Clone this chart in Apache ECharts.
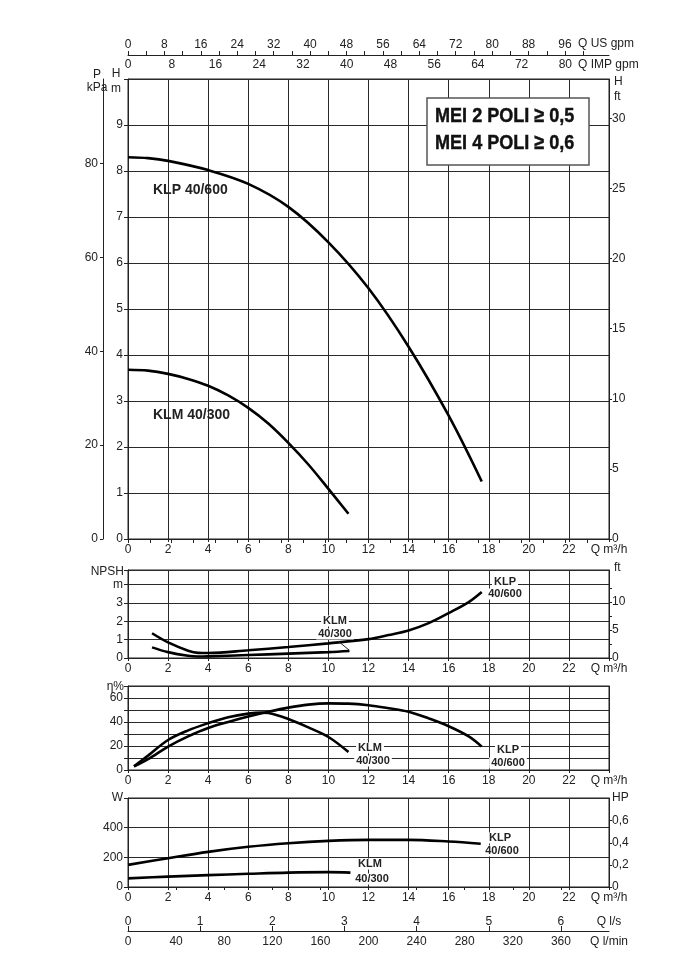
<!DOCTYPE html>
<html><head><meta charset="utf-8">
<script src="https://cdn.jsdelivr.net/npm/echarts@6/dist/echarts.min.js"></script>
<style>html,body{margin:0;padding:0;background:#fff}#c{width:694px;height:963px}</style>
</head><body><div id="c"></div>
<script>
// ---------- data ----------
// Head H (m) vs Q (m3/h)
const klpHQ = [0, 1, 2, 4, 6, 8, 10, 12, 14, 16, 17.65];
const klpH  = [8.30, 8.28, 8.22, 8.02, 7.72, 7.22, 6.45, 5.45, 4.18, 2.68, 1.25];
const klmHQ = [0, 1, 2, 3, 4, 5, 6, 7, 8, 9, 10, 11];
const klmH  = [3.68, 3.66, 3.59, 3.48, 3.33, 3.12, 2.85, 2.51, 2.09, 1.62, 1.09, 0.55];
// NPSH (m)
const klpNpshQ = [1.2, 2, 3, 3.5, 4, 6, 8, 10, 12, 13, 14, 15, 16, 17, 17.65];
const klpNpsh  = [1.35, 0.85, 0.40, 0.28, 0.27, 0.42, 0.60, 0.80, 1.03, 1.25, 1.50, 1.90, 2.45, 3.05, 3.60];
const klmNpshQ = [1.2, 2, 3, 3.5, 4, 6, 8, 10, 11.05];
const klmNpsh  = [0.58, 0.32, 0.12, 0.08, 0.09, 0.16, 0.24, 0.32, 0.38];
// Efficiency (%)
const klpEffQ = [0.3, 1, 2, 3, 4, 5, 6, 7, 8, 9, 10, 11, 12, 13, 14, 15, 16, 17, 17.65];
const klpEff  = [3, 9, 19.5, 28, 35, 40, 44.5, 48.5, 52, 54.5, 55.5, 55.3, 54, 51.5, 48.5, 43, 36.5, 28, 19.5];
const klmEffQ = [0.3, 1, 2, 3, 4, 5, 6, 6.7, 7, 8, 9, 10, 11];
const klmEff  = [3, 12, 25, 33, 39, 44, 47, 47.8, 47.5, 42.5, 35.5, 27.5, 15];
// Power (W)
const klpPQ = [0, 2, 4, 6, 8, 10, 12, 14, 16, 17.6];
const klpP  = [149, 194, 237, 271, 295, 311, 318, 318, 307, 292];
const klmPQ = [0, 2, 4, 6, 8, 10, 11.1];
const klmP  = [58, 70, 80, 89, 97, 100, 97];

// tick labels
const usGpmLabels  = [0, 8, 16, 24, 32, 40, 48, 56, 64, 72, 80, 88, 96];
const usGpmMinor   = [4, 12, 20, 28, 36, 44, 52, 60, 68, 76, 84, 92, 100];
const impGpmLabels = [0, 8, 16, 24, 32, 40, 48, 56, 64, 72, 80];
const impGpmMinor  = [4, 12, 20, 28, 36, 44, 52, 60, 68, 76, 84];
const lsLabels     = [0, 1, 2, 3, 4, 5, 6];
const lminLabels   = [0, 40, 80, 120, 160, 200, 240, 280, 320, 360];
const kpaLabels    = [0, 20, 40, 60, 80];
const ftLabels     = [0, 5, 10, 15, 20, 25, 30];
const npshFtTicks  = [0, 2.5, 5, 7.5, 10, 12.5];
const npshFtLabels = [0, 5, 10];
const hpLabels     = [0, 0.2, 0.4, 0.6];

// units / ranges
const Q_MAX = 24, H_MAX = 10, NPSH_MAX = 4.8, EFF_MAX = 70, P_MAX = 600;
const M_TO_FT = 3.28084, M_TO_KPA = 9.80665;
const US = 4.40287, IMP = 3.66615;
const US_MAX = Q_MAX * US, IMP_MAX = Q_MAX * IMP, LS_MAX = Q_MAX / 3.6, LMIN_MAX = Q_MAX * 1000 / 60;
const HP_MAX = P_MAX / 745.7;

const FONT = '"Liberation Sans", Arial, sans-serif';
const INK = '#222';
const GRIDC = '#2a2a2a';
const zip = (a, b) => a.map((v, i) => [v, b[i]]);
const near = (a, b) => Math.abs(a - b) < 1e-6;
const comma = v => String(Math.round(v * 10) / 10).replace('.', ',');

const lbl = (extra) => Object.assign({color: INK, fontSize: 12, fontFamily: FONT}, extra);

function qAxis(gridIndex) {
  return {
    type: 'value', gridIndex, min: 0, max: Q_MAX, interval: 2, position: 'bottom',
    axisLine: {show: true, onZero: false, lineStyle: {color: INK}},
    axisTick: {show: true, length: 3, lineStyle: {color: INK}},
    axisLabel: lbl({margin: 5, showMaxLabel: true, showMinLabel: true,
      formatter: v => v >= Q_MAX ? 'Q m³/h' : String(v)}),
    splitLine: {show: true, lineStyle: {color: GRIDC, width: 1}}
  };
}

const xAxis = [
  qAxis(0),
  { type: 'value', gridIndex: 0, min: 0, max: US_MAX, position: 'top', offset: 24,
    axisLine: {show: true, onZero: false, lineStyle: {color: INK}},
    axisTick: {show: true, length: 4, customValues: usGpmLabels.concat(usGpmMinor), lineStyle: {color: INK}},
    axisLabel: lbl({margin: 4, customValues: usGpmLabels}),
    splitLine: {show: false} },
  { type: 'value', gridIndex: 0, min: 0, max: IMP_MAX, position: 'top', offset: 24,
    axisLine: {show: false},
    axisTick: {show: true, inside: true, length: 4, customValues: impGpmLabels.concat(impGpmMinor), lineStyle: {color: INK}},
    axisLabel: lbl({inside: true, margin: 4, customValues: impGpmLabels}),
    splitLine: {show: false} },
  qAxis(1),
  qAxis(2),
  qAxis(3),
  { type: 'value', gridIndex: 3, min: 0, max: LS_MAX, position: 'bottom', offset: 44,
    axisLine: {show: true, onZero: false, lineStyle: {color: INK}},
    axisTick: {show: true, inside: true, length: 5, customValues: lsLabels, lineStyle: {color: INK}},
    axisLabel: lbl({inside: true, margin: 3, customValues: lsLabels.concat([LS_MAX]),
      formatter: v => near(v, LS_MAX) ? 'Q l/s' : String(v)}),
    splitLine: {show: false} },
  { type: 'value', gridIndex: 3, min: 0, max: LMIN_MAX, position: 'bottom', offset: 44,
    axisLine: {show: false},
    axisTick: {show: true, length: 3, customValues: lminLabels, lineStyle: {color: INK}},
    axisLabel: lbl({margin: 5, customValues: lminLabels.concat([LMIN_MAX]),
      formatter: v => near(v, LMIN_MAX) ? 'Q l/min' : String(v)}),
    splitLine: {show: false} }
];

const yAxis = [
  // 0 main H (m)
  { type: 'value', gridIndex: 0, min: 0, max: H_MAX, interval: 1, position: 'left',
    axisLine: {show: true, onZero: false, lineStyle: {color: INK}},
    axisTick: {show: true, length: 4, lineStyle: {color: INK}},
    axisLabel: lbl({margin: 5, formatter: v => v >= H_MAX ? '' : String(v)}),
    splitLine: {show: true, lineStyle: {color: GRIDC}} },
  // 1 main P (kPa)
  { type: 'value', gridIndex: 0, min: 0, max: H_MAX * M_TO_KPA, position: 'left', offset: 25,
    axisLine: {show: true, onZero: false, lineStyle: {color: INK}},
    axisTick: {show: true, length: 3, customValues: kpaLabels, lineStyle: {color: INK}},
    axisLabel: lbl({margin: 5, customValues: kpaLabels}),
    splitLine: {show: false} },
  // 2 main H (ft)
  { type: 'value', gridIndex: 0, min: 0, max: H_MAX * M_TO_FT, position: 'right',
    axisLine: {show: true, onZero: false, lineStyle: {color: INK}},
    axisTick: {show: true, length: 3, customValues: ftLabels, lineStyle: {color: INK}},
    axisLabel: lbl({margin: 3, customValues: ftLabels}),
    splitLine: {show: false} },
  // 3 NPSH (m)
  { type: 'value', gridIndex: 1, min: 0, max: NPSH_MAX, interval: 1, position: 'left',
    axisLine: {show: true, onZero: false, lineStyle: {color: INK}},
    axisTick: {show: true, length: 4, lineStyle: {color: INK}},
    axisLabel: lbl({margin: 5, showMaxLabel: true, formatter: v => near(v, 4) ? 'm' : (v > 3 ? '' : String(v))}),
    splitLine: {show: true, lineStyle: {color: GRIDC}} },
  // 4 NPSH (ft)
  { type: 'value', gridIndex: 1, min: 0, max: NPSH_MAX * M_TO_FT, position: 'right',
    axisLine: {show: true, onZero: false, lineStyle: {color: INK}},
    axisTick: {show: true, length: 3, customValues: npshFtTicks, lineStyle: {color: INK}},
    axisLabel: lbl({margin: 3, customValues: npshFtLabels}),
    splitLine: {show: false} },
  // 5 efficiency
  { type: 'value', gridIndex: 2, min: 0, max: EFF_MAX, interval: 10, position: 'left',
    axisLine: {show: true, onZero: false, lineStyle: {color: INK}},
    axisTick: {show: true, length: 4, lineStyle: {color: INK}},
    axisLabel: lbl({margin: 5, formatter: v => (v % 20 === 0 && v < EFF_MAX) ? String(v) : ''}),
    splitLine: {show: true, lineStyle: {color: GRIDC}} },
  // 6 efficiency right frame
  { type: 'value', gridIndex: 2, min: 0, max: EFF_MAX, interval: 10, position: 'right',
    axisLine: {show: true, onZero: false, lineStyle: {color: INK}},
    axisTick: {show: false}, axisLabel: {show: false}, splitLine: {show: false} },
  // 7 power W
  { type: 'value', gridIndex: 3, min: 0, max: P_MAX, interval: 200, position: 'left',
    axisLine: {show: true, onZero: false, lineStyle: {color: INK}},
    axisTick: {show: true, length: 4, lineStyle: {color: INK}},
    axisLabel: lbl({margin: 5, showMaxLabel: true, formatter: v => v >= P_MAX ? 'W' : String(v)}),
    splitLine: {show: true, lineStyle: {color: GRIDC}} },
  // 8 power HP
  { type: 'value', gridIndex: 3, min: 0, max: HP_MAX, position: 'right',
    axisLine: {show: true, onZero: false, lineStyle: {color: INK}},
    axisTick: {show: true, length: 3, customValues: hpLabels, lineStyle: {color: INK}},
    axisLabel: lbl({margin: 3, customValues: hpLabels.concat([HP_MAX]),
      formatter: v => near(v, HP_MAX) ? 'HP' : comma(v)}),
    splitLine: {show: false} }
];

function curve(xi, yi, q, v) {
  return { type: 'line', xAxisIndex: xi, yAxisIndex: yi, data: zip(q, v), smooth: 0.35,
    symbol: 'none', silent: true, lineStyle: {color: '#000', width: 2.6}, z: 5 };
}

const series = [
  curve(0, 0, klpHQ, klpH), curve(0, 0, klmHQ, klmH),
  curve(3, 3, klpNpshQ, klpNpsh), curve(3, 3, klmNpshQ, klmNpsh),
  curve(4, 5, klpEffQ, klpEff), curve(4, 5, klmEffQ, klmEff),
  curve(5, 7, klpPQ, klpP), curve(5, 7, klmPQ, klmP)
];

function txt(x, y, text, o) {
  o = o || {};
  const st = { text, fill: o.heavy ? '#111' : INK, font: (o.weight || 'normal') + ' ' + (o.size || 12) + 'px ' + (o.family || FONT),
    textAlign: o.align || 'center', textVerticalAlign: 'middle' };
  if (o.bg) { st.backgroundColor = '#fff'; st.padding = [0, 2]; }
  if (o.heavy) { st.stroke = '#111'; st.lineWidth = o.heavy; }
  const el = { type: 'text', x, y, z: 100, silent: true, style: st };
  if (o.scaleX) el.scaleX = o.scaleX;
  return el;
}

const graphic = [
  txt(97, 75, 'P'), txt(97, 88, 'kPa'),
  txt(116, 74, 'H'), txt(116, 89, 'm'),
  txt(614, 82, 'H', {align: 'left'}), txt(614, 97, 'ft', {align: 'left'}),
  txt(578, 44, 'Q US gpm', {align: 'left'}),
  txt(578, 65, 'Q IMP gpm', {align: 'left'}),
  txt(124, 572, 'NPSH', {align: 'right'}),
  txt(614, 568, 'ft', {align: 'left'}),
  txt(124, 687, 'η%', {align: 'right'}),
  { type: 'rect', z: 90, shape: {x: 427, y: 98, width: 162, height: 67},
    style: {fill: '#fff', stroke: '#555', lineWidth: 1.5} },
  txt(435, 116, 'MEI 2 POLI ≥ 0,5', {align: 'left', weight: 'bold', size: 21, scaleX: 0.86, heavy: 0.45}),
  txt(435, 143, 'MEI 4 POLI ≥ 0,6', {align: 'left', weight: 'bold', size: 21, scaleX: 0.86, heavy: 0.45}),
  txt(153, 190, 'KLP 40/600', {align: 'left', weight: 'bold', size: 14}),
  txt(153, 415, 'KLM 40/300', {align: 'left', weight: 'bold', size: 14}),
  // NPSH labels
  txt(505, 582, 'KLP', {weight: 'bold', size: 11, bg: true}),
  txt(505, 594, '40/600', {weight: 'bold', size: 11, bg: true}),
  txt(335, 621, 'KLM', {weight: 'bold', size: 11, bg: true}),
  txt(335, 634, '40/300', {weight: 'bold', size: 11, bg: true}),
  { type: 'line', z: 99, shape: {x1: 338, y1: 641, x2: 349, y2: 650}, style: {stroke: INK, lineWidth: 1} },
  // efficiency labels
  txt(370, 748, 'KLM', {weight: 'bold', size: 11, bg: true}),
  txt(373, 761, '40/300', {weight: 'bold', size: 11, bg: true}),
  txt(508, 750, 'KLP', {weight: 'bold', size: 11, bg: true}),
  txt(508, 763, '40/600', {weight: 'bold', size: 11, bg: true}),
  // power labels
  txt(500, 838, 'KLP', {weight: 'bold', size: 11, bg: true}),
  txt(502, 851, '40/600', {weight: 'bold', size: 11, bg: true}),
  txt(370, 864, 'KLM', {weight: 'bold', size: 11, bg: true}),
  txt(372, 879, '40/300', {weight: 'bold', size: 11, bg: true})
];

const chart = echarts.init(document.getElementById('c'), null, {renderer: 'canvas'});
chart.setOption({
  animation: false,
  backgroundColor: '#fff',
  textStyle: {fontFamily: FONT},
  grid: [
    {left: 128, top: 79, width: 481, height: 460, show: true, borderColor: INK, borderWidth: 1},
    {left: 128, top: 570, width: 481, height: 88, show: true, borderColor: INK, borderWidth: 1},
    {left: 128, top: 686, width: 481, height: 84, show: true, borderColor: INK, borderWidth: 1},
    {left: 128, top: 798, width: 481, height: 89, show: true, borderColor: INK, borderWidth: 1}
  ],
  xAxis, yAxis, series, graphic
});
</script></body></html>
